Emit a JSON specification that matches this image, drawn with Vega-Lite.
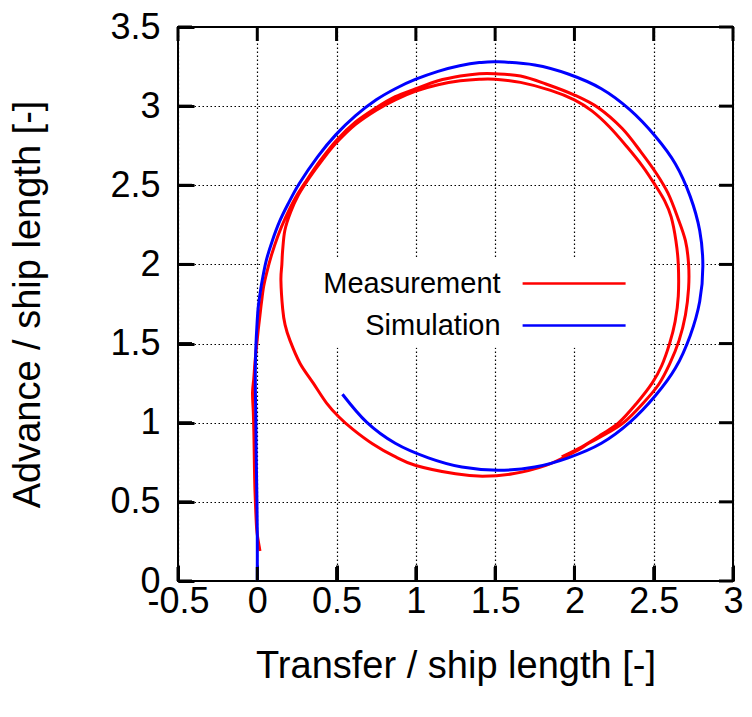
{
  "$schema": "https://vega.github.io/schema/vega-lite/v6.json",
  "autosize": "none",
  "width": 555,
  "height": 554,
  "padding": {"left": 178, "top": 27, "right": 19, "bottom": 136},
  "background": "white",
  "config": {
    "view": {"stroke": "#000", "strokeWidth": 2},
    "font": "Liberation Sans",
    "axis": {
      "labelFont": "Liberation Sans",
      "titleFont": "Liberation Sans",
      "labelFontSize": 36,
      "titleFontSize": 38,
      "titleFontWeight": "normal",
      "labelColor": "#000",
      "titleColor": "#000",
      "domain": false,
      "tickOpacity": 1,
      "tickColor": "#000",
      "tickWidth": 3,
      "gridColor": "#000",
      "gridDash": [1.5, 2.5],
      "gridWidth": 1.2,
      "gridOpacity": 1,
      "labelExpr": "'' + datum.value"
    }
  },
  "datasets": {
    "box": [{"x1": 0.02, "x2": 2.47, "y1": 1.473, "y2": 2.034}],
    "xticks": [{"v": -0.5}, {"v": 0}, {"v": 0.5}, {"v": 1}, {"v": 1.5}, {"v": 2}, {"v": 2.5}, {"v": 3}],
    "yticks": [{"v": 0}, {"v": 0.5}, {"v": 1}, {"v": 1.5}, {"v": 2}, {"v": 2.5}, {"v": 3}, {"v": 3.5}],
    "traj": [
      {"series": "Measurement", "i": 1, "x": 0.017, "y": 0.19},
      {"series": "Measurement", "i": 2, "x": 0.005, "y": 0.26},
      {"series": "Measurement", "i": 3, "x": -0.004, "y": 0.33},
      {"series": "Measurement", "i": 4, "x": -0.01, "y": 0.45},
      {"series": "Measurement", "i": 5, "x": -0.015, "y": 0.58},
      {"series": "Measurement", "i": 6, "x": -0.018, "y": 0.72},
      {"series": "Measurement", "i": 7, "x": -0.02, "y": 0.85},
      {"series": "Measurement", "i": 8, "x": -0.022, "y": 0.96},
      {"series": "Measurement", "i": 9, "x": -0.025, "y": 1.065},
      {"series": "Measurement", "i": 10, "x": -0.03, "y": 1.19},
      {"series": "Measurement", "i": 11, "x": -0.022, "y": 1.28},
      {"series": "Measurement", "i": 12, "x": -0.015, "y": 1.376},
      {"series": "Measurement", "i": 13, "x": -0.005, "y": 1.48},
      {"series": "Measurement", "i": 14, "x": 0.006, "y": 1.586},
      {"series": "Measurement", "i": 15, "x": 0.017, "y": 1.68},
      {"series": "Measurement", "i": 16, "x": 0.027, "y": 1.765},
      {"series": "Measurement", "i": 17, "x": 0.04, "y": 1.86},
      {"series": "Measurement", "i": 18, "x": 0.06, "y": 1.95},
      {"series": "Measurement", "i": 19, "x": 0.09, "y": 2.06},
      {"series": "Measurement", "i": 20, "x": 0.13, "y": 2.18},
      {"series": "Measurement", "i": 21, "x": 0.18, "y": 2.3},
      {"series": "Measurement", "i": 22, "x": 0.24, "y": 2.42},
      {"series": "Measurement", "i": 23, "x": 0.31, "y": 2.53},
      {"series": "Measurement", "i": 24, "x": 0.4, "y": 2.66},
      {"series": "Measurement", "i": 25, "x": 0.5, "y": 2.785},
      {"series": "Measurement", "i": 26, "x": 0.62, "y": 2.9},
      {"series": "Measurement", "i": 27, "x": 0.75, "y": 2.99},
      {"series": "Measurement", "i": 28, "x": 0.87, "y": 3.06},
      {"series": "Measurement", "i": 29, "x": 1.0, "y": 3.11},
      {"series": "Measurement", "i": 30, "x": 1.14, "y": 3.16},
      {"series": "Measurement", "i": 31, "x": 1.28, "y": 3.19},
      {"series": "Measurement", "i": 32, "x": 1.4, "y": 3.205},
      {"series": "Measurement", "i": 33, "x": 1.5, "y": 3.205},
      {"series": "Measurement", "i": 34, "x": 1.66, "y": 3.19},
      {"series": "Measurement", "i": 35, "x": 1.82, "y": 3.14},
      {"series": "Measurement", "i": 36, "x": 2.0, "y": 3.07},
      {"series": "Measurement", "i": 37, "x": 2.15, "y": 2.99},
      {"series": "Measurement", "i": 38, "x": 2.3, "y": 2.86},
      {"series": "Measurement", "i": 39, "x": 2.42, "y": 2.71},
      {"series": "Measurement", "i": 40, "x": 2.52, "y": 2.57},
      {"series": "Measurement", "i": 41, "x": 2.59, "y": 2.45},
      {"series": "Measurement", "i": 42, "x": 2.65, "y": 2.3},
      {"series": "Measurement", "i": 43, "x": 2.7, "y": 2.15},
      {"series": "Measurement", "i": 44, "x": 2.72, "y": 2.0},
      {"series": "Measurement", "i": 45, "x": 2.72, "y": 1.85},
      {"series": "Measurement", "i": 46, "x": 2.7, "y": 1.68},
      {"series": "Measurement", "i": 47, "x": 2.66, "y": 1.52},
      {"series": "Measurement", "i": 48, "x": 2.6, "y": 1.37},
      {"series": "Measurement", "i": 49, "x": 2.53, "y": 1.24},
      {"series": "Measurement", "i": 50, "x": 2.43, "y": 1.12},
      {"series": "Measurement", "i": 51, "x": 2.31, "y": 1.0},
      {"series": "Measurement", "i": 52, "x": 2.2, "y": 0.93},
      {"series": "Measurement", "i": 53, "x": 2.09, "y": 0.87},
      {"series": "Measurement", "i": 54, "x": 2.0, "y": 0.815},
      {"series": "Measurement", "i": 55, "x": 1.82, "y": 0.73},
      {"series": "Measurement", "i": 56, "x": 1.61, "y": 0.677},
      {"series": "Measurement", "i": 57, "x": 1.42, "y": 0.662},
      {"series": "Measurement", "i": 58, "x": 1.25, "y": 0.677},
      {"series": "Measurement", "i": 59, "x": 1.0, "y": 0.73},
      {"series": "Measurement", "i": 60, "x": 0.86, "y": 0.79},
      {"series": "Measurement", "i": 61, "x": 0.726, "y": 0.867},
      {"series": "Measurement", "i": 62, "x": 0.605, "y": 0.956},
      {"series": "Measurement", "i": 63, "x": 0.515, "y": 1.036},
      {"series": "Measurement", "i": 64, "x": 0.437, "y": 1.124},
      {"series": "Measurement", "i": 65, "x": 0.353, "y": 1.25},
      {"series": "Measurement", "i": 66, "x": 0.269, "y": 1.376},
      {"series": "Measurement", "i": 67, "x": 0.206, "y": 1.52},
      {"series": "Measurement", "i": 68, "x": 0.175, "y": 1.62},
      {"series": "Measurement", "i": 69, "x": 0.16, "y": 1.72},
      {"series": "Measurement", "i": 70, "x": 0.149, "y": 1.9},
      {"series": "Measurement", "i": 71, "x": 0.155, "y": 2.0},
      {"series": "Measurement", "i": 72, "x": 0.16, "y": 2.09},
      {"series": "Measurement", "i": 73, "x": 0.174, "y": 2.216},
      {"series": "Measurement", "i": 74, "x": 0.21, "y": 2.33},
      {"series": "Measurement", "i": 75, "x": 0.26, "y": 2.44},
      {"series": "Measurement", "i": 76, "x": 0.33, "y": 2.55},
      {"series": "Measurement", "i": 77, "x": 0.41, "y": 2.66},
      {"series": "Measurement", "i": 78, "x": 0.5, "y": 2.77},
      {"series": "Measurement", "i": 79, "x": 0.62, "y": 2.885},
      {"series": "Measurement", "i": 80, "x": 0.75, "y": 2.975},
      {"series": "Measurement", "i": 81, "x": 0.87, "y": 3.04},
      {"series": "Measurement", "i": 82, "x": 1.0, "y": 3.095},
      {"series": "Measurement", "i": 83, "x": 1.14, "y": 3.135},
      {"series": "Measurement", "i": 84, "x": 1.28, "y": 3.16},
      {"series": "Measurement", "i": 85, "x": 1.4, "y": 3.17},
      {"series": "Measurement", "i": 86, "x": 1.5, "y": 3.17},
      {"series": "Measurement", "i": 87, "x": 1.66, "y": 3.15},
      {"series": "Measurement", "i": 88, "x": 1.85, "y": 3.1},
      {"series": "Measurement", "i": 89, "x": 2.0, "y": 3.04},
      {"series": "Measurement", "i": 90, "x": 2.11, "y": 2.97},
      {"series": "Measurement", "i": 91, "x": 2.22, "y": 2.87},
      {"series": "Measurement", "i": 92, "x": 2.33, "y": 2.745},
      {"series": "Measurement", "i": 93, "x": 2.43, "y": 2.62},
      {"series": "Measurement", "i": 94, "x": 2.51, "y": 2.5},
      {"series": "Measurement", "i": 95, "x": 2.57, "y": 2.4},
      {"series": "Measurement", "i": 96, "x": 2.61, "y": 2.3},
      {"series": "Measurement", "i": 97, "x": 2.64, "y": 2.15},
      {"series": "Measurement", "i": 98, "x": 2.655, "y": 2.0},
      {"series": "Measurement", "i": 99, "x": 2.655, "y": 1.8},
      {"series": "Measurement", "i": 100, "x": 2.635, "y": 1.64},
      {"series": "Measurement", "i": 101, "x": 2.6, "y": 1.5},
      {"series": "Measurement", "i": 102, "x": 2.55, "y": 1.36},
      {"series": "Measurement", "i": 103, "x": 2.49, "y": 1.25},
      {"series": "Measurement", "i": 104, "x": 2.39, "y": 1.12},
      {"series": "Measurement", "i": 105, "x": 2.28, "y": 1.0},
      {"series": "Measurement", "i": 106, "x": 2.17, "y": 0.925},
      {"series": "Measurement", "i": 107, "x": 2.05, "y": 0.85},
      {"series": "Measurement", "i": 108, "x": 1.92, "y": 0.785},
      {"series": "Simulation", "i": 1, "x": 0.0, "y": 0.0},
      {"series": "Simulation", "i": 2, "x": 0.0, "y": 0.3},
      {"series": "Simulation", "i": 3, "x": -0.003, "y": 0.556},
      {"series": "Simulation", "i": 4, "x": -0.007, "y": 0.8},
      {"series": "Simulation", "i": 5, "x": -0.009, "y": 1.02},
      {"series": "Simulation", "i": 6, "x": -0.012, "y": 1.2},
      {"series": "Simulation", "i": 7, "x": -0.012, "y": 1.36},
      {"series": "Simulation", "i": 8, "x": -0.008, "y": 1.5},
      {"series": "Simulation", "i": 9, "x": -0.003, "y": 1.6},
      {"series": "Simulation", "i": 10, "x": 0.005, "y": 1.72},
      {"series": "Simulation", "i": 11, "x": 0.018, "y": 1.82},
      {"series": "Simulation", "i": 12, "x": 0.035, "y": 1.92},
      {"series": "Simulation", "i": 13, "x": 0.058, "y": 2.03},
      {"series": "Simulation", "i": 14, "x": 0.095, "y": 2.15},
      {"series": "Simulation", "i": 15, "x": 0.14, "y": 2.27},
      {"series": "Simulation", "i": 16, "x": 0.193, "y": 2.38},
      {"series": "Simulation", "i": 17, "x": 0.264, "y": 2.51},
      {"series": "Simulation", "i": 18, "x": 0.38, "y": 2.68},
      {"series": "Simulation", "i": 19, "x": 0.496, "y": 2.82},
      {"series": "Simulation", "i": 20, "x": 0.62, "y": 2.94},
      {"series": "Simulation", "i": 21, "x": 0.75, "y": 3.04},
      {"series": "Simulation", "i": 22, "x": 0.87, "y": 3.11},
      {"series": "Simulation", "i": 23, "x": 1.0, "y": 3.17},
      {"series": "Simulation", "i": 24, "x": 1.14, "y": 3.22},
      {"series": "Simulation", "i": 25, "x": 1.276, "y": 3.255},
      {"series": "Simulation", "i": 26, "x": 1.4, "y": 3.275},
      {"series": "Simulation", "i": 27, "x": 1.52, "y": 3.28},
      {"series": "Simulation", "i": 28, "x": 1.75, "y": 3.26},
      {"series": "Simulation", "i": 29, "x": 1.961, "y": 3.203},
      {"series": "Simulation", "i": 30, "x": 2.17, "y": 3.11},
      {"series": "Simulation", "i": 31, "x": 2.349, "y": 2.978},
      {"series": "Simulation", "i": 32, "x": 2.51, "y": 2.81},
      {"series": "Simulation", "i": 33, "x": 2.637, "y": 2.635},
      {"series": "Simulation", "i": 34, "x": 2.73, "y": 2.43},
      {"series": "Simulation", "i": 35, "x": 2.79, "y": 2.214},
      {"series": "Simulation", "i": 36, "x": 2.81, "y": 1.99},
      {"series": "Simulation", "i": 37, "x": 2.79, "y": 1.766},
      {"series": "Simulation", "i": 38, "x": 2.73, "y": 1.55},
      {"series": "Simulation", "i": 39, "x": 2.637, "y": 1.345},
      {"series": "Simulation", "i": 40, "x": 2.51, "y": 1.17},
      {"series": "Simulation", "i": 41, "x": 2.349, "y": 1.002},
      {"series": "Simulation", "i": 42, "x": 2.17, "y": 0.87},
      {"series": "Simulation", "i": 43, "x": 1.961, "y": 0.778},
      {"series": "Simulation", "i": 44, "x": 1.75, "y": 0.72},
      {"series": "Simulation", "i": 45, "x": 1.52, "y": 0.7},
      {"series": "Simulation", "i": 46, "x": 1.29, "y": 0.72},
      {"series": "Simulation", "i": 47, "x": 1.079, "y": 0.778},
      {"series": "Simulation", "i": 48, "x": 0.87, "y": 0.87},
      {"series": "Simulation", "i": 49, "x": 0.691, "y": 1.002},
      {"series": "Simulation", "i": 50, "x": 0.537, "y": 1.18}
    ]
  },
  "resolve": {"axis": {"x": "independent", "y": "independent"}},
  "layer": [
    {
      "data": {"name": "box"},
      "mark": {"type": "rect", "fill": "white", "stroke": null},
      "encoding": {
        "x": {
          "field": "x1", "type": "quantitative",
          "scale": {"domain": [-0.5, 3], "nice": false, "zero": false},
          "axis": {
            "orient": "bottom",
            "title": "Transfer / ship length [-]",
            "values": [-0.5, 0, 0.5, 1, 1.5, 2, 2.5, 3],
            "grid": true,
            "offset": -16,
            "tickSize": 16,
            "labelPadding": 3,
            "labelFlush": false,
            "titlePadding": 28
          }
        },
        "x2": {"field": "x2"},
        "y": {
          "field": "y1", "type": "quantitative",
          "scale": {"domain": [0, 3.5], "nice": false, "zero": false},
          "axis": {
            "orient": "left",
            "title": "Advance / ship length [-]",
            "values": [0, 0.5, 1, 1.5, 2, 2.5, 3, 3.5],
            "grid": true,
            "offset": -16,
            "tickSize": 16,
            "labelPadding": 18,
            "labelFlush": false,
            "titlePadding": 62
          }
        },
        "y2": {"field": "y2"}
      }
    },
    {
      "data": {"name": "traj"},
      "mark": {"type": "line", "strokeWidth": 3, "interpolate": "cardinal"},
      "encoding": {
        "x": {
          "field": "x", "type": "quantitative",
          "scale": {"domain": [-0.5, 3], "nice": false, "zero": false},
          "axis": null
        },
        "y": {
          "field": "y", "type": "quantitative",
          "scale": {"domain": [0, 3.5], "nice": false, "zero": false},
          "axis": null
        },
        "order": {"field": "i", "type": "quantitative"},
        "color": {
          "field": "series", "type": "nominal",
          "scale": {"domain": ["Measurement", "Simulation"], "range": ["#ff0000", "#0000ff"]},
          "legend": {
            "title": null,
            "orient": "none",
            "legendX": 381.6,
            "legendY": 242,
            "symbolType": "M-4,0H4",
            "symbolSize": 663,
            "symbolStrokeWidth": 2.5,
            "symbolOpacity": 1,
            "rowPadding": 12,
            "labelFontSize": 29,
            "labelFont": "Liberation Sans",
            "labelColor": "#000",
            "labelAlign": "right",
            "labelOffset": -88,
            "labelLimit": 400,
            "padding": 0
          }
        }
      }
    },
    {
      "data": {"name": "xticks"},
      "mark": {"type": "tick", "orient": "vertical", "color": "#000", "size": 14, "thickness": 3, "yOffset": -7, "opacity": 1},
      "encoding": {
        "x": {"field": "v", "type": "quantitative", "scale": {"domain": [-0.5, 3], "nice": false, "zero": false}, "axis": null},
        "y": {"datum": 0, "type": "quantitative", "scale": {"domain": [0, 3.5], "nice": false, "zero": false}, "axis": null}
      }
    },
    {
      "data": {"name": "xticks"},
      "mark": {"type": "tick", "orient": "vertical", "color": "#000", "size": 14, "thickness": 3, "yOffset": 7, "opacity": 1},
      "encoding": {
        "x": {"field": "v", "type": "quantitative", "scale": {"domain": [-0.5, 3], "nice": false, "zero": false}, "axis": null},
        "y": {"datum": 3.5, "type": "quantitative", "scale": {"domain": [0, 3.5], "nice": false, "zero": false}, "axis": null}
      }
    },
    {
      "data": {"name": "yticks"},
      "mark": {"type": "tick", "orient": "horizontal", "color": "#000", "size": 14, "thickness": 3, "xOffset": 7, "opacity": 1},
      "encoding": {
        "y": {"field": "v", "type": "quantitative", "scale": {"domain": [0, 3.5], "nice": false, "zero": false}, "axis": null},
        "x": {"datum": -0.5, "type": "quantitative", "scale": {"domain": [-0.5, 3], "nice": false, "zero": false}, "axis": null}
      }
    },
    {
      "data": {"name": "yticks"},
      "mark": {"type": "tick", "orient": "horizontal", "color": "#000", "size": 14, "thickness": 3, "xOffset": -7, "opacity": 1},
      "encoding": {
        "y": {"field": "v", "type": "quantitative", "scale": {"domain": [0, 3.5], "nice": false, "zero": false}, "axis": null},
        "x": {"datum": 3, "type": "quantitative", "scale": {"domain": [-0.5, 3], "nice": false, "zero": false}, "axis": null}
      }
    }
  ]
}
